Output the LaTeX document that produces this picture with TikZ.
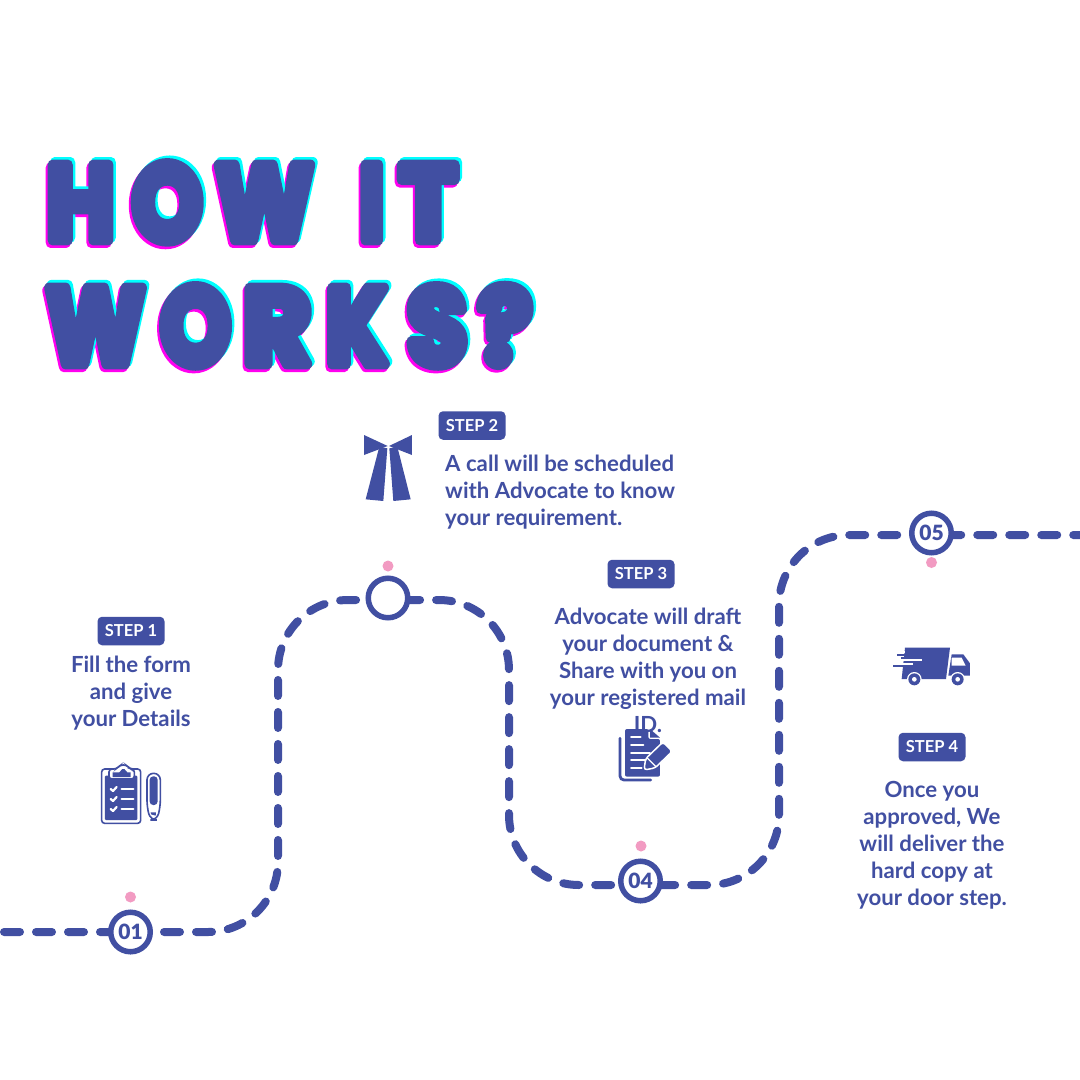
\documentclass[tikz,border=0pt]{standalone}
\usepackage{fontspec}
\usepackage{graphicx}
\setmainfont{Lato Bold}
\newfontfamily\titlefont{Poppins Bold}
\definecolor{ink}{HTML}{414FA2}
\definecolor{pinkdot}{HTML}{F29BC2}
\definecolor{cyanlay}{HTML}{00FFFF}
\definecolor{magentalay}{HTML}{FF00F0}
\newcommand{\fatglyph}[3]{\resizebox{#1pt}{#2pt}{\fontsize{100}{100}\titlefont\special{pdf:code q 1 j 1 J 2 Tr 10 w}#3\special{pdf:code Q}}}
\newcommand{\lett}[6]{% x,baseline,w,h,letter,name
  \node[inner sep=0,anchor=base west,text=magentalay] at (#1-1.9,#2+2.6) {\fatglyph{#3}{#4}{#5}};
  \node[inner sep=0,anchor=base west,text=cyanlay] at (#1+2.4,#2-2.6) {\fatglyph{#3}{#4}{#5}};
  \node[inner sep=0,anchor=base west,text=ink] (#6) at (#1,#2) {\fatglyph{#3}{#4}{#5}};
}
\tikzset{
  route/.style={draw=ink,line width=8pt,line cap=round,dash pattern=on 16pt off 16pt,dash phase=28pt,rounded corners=70pt},
  stop/.style={circle,draw=ink,line width=5.5pt,fill=white,minimum size=39.5pt,inner sep=0,text=ink,font=\fontsize{21}{21}\selectfont\fontspec{Lato Black}},
  dot/.style={circle,fill=pinkdot,minimum size=11pt,inner sep=0},
  badge/.style={fill=ink,text=white,rounded corners=4.5pt,minimum width=67pt,minimum height=28.5pt,inner sep=0,font=\fontsize{16.5}{16.5}\selectfont},
  body/.style={text=ink,inner sep=0,font=\fontsize{22.2}{27}\selectfont},
  icon/.style={fill=ink,draw=none},
  cut/.style={draw=white,line cap=round,line join=round}
}
\begin{document}
\begin{tikzpicture}[x=1pt,y=-1pt]
\useasboundingbox[fill=white] (0,0) rectangle (1080,1080);

% title
\lett{46.3}{240}{68}{75}{H}{t1}
\lett{132}{240.5}{70}{77}{O}{t2}
\lett{215.7}{240}{97}{75}{W}{t3}
\lett{359.3}{240}{24.7}{75}{I}{t4}
\lett{399}{240}{58}{75}{T}{t5}
\lett{46.3}{364}{98}{76}{W}{t6}
\lett{160.3}{364.5}{70}{78}{O}{t7}
\lett{243}{364}{68}{76}{R}{t8}
\lett{326}{364}{61}{76}{K}{t9}
\lett{407}{364.5}{60}{78}{S}{t10}
\lett{478}{364}{54}{78}{?}{t11}

% route
\coordinate (w0) at (0,932);
\coordinate (w1) at (278,932);
\coordinate (w2) at (278,600);
\coordinate (w3) at (509,600);
\coordinate (w4) at (509,885);
\coordinate (w5) at (779,885);
\coordinate (w6) at (779,535);
\coordinate (w7) at (1080,535);
\draw[route] (w0) -- (w1) -- (w2) -- (w3) -- (w4) -- (w5) -- (w6) -- (w7);

% stops
\node[stop] (s1) at (130.5,932) {01};
\node[stop] (s2) at (388,598) {};
\node[stop] (s4) at (640.5,881) {04};
\node[stop] (s5) at (931.5,533) {05};
\node[dot] (d1) at (130.5,897) {};
\node[dot] (d2) at (388,566) {};
\node[dot] (d4) at (641,846) {};
\node[dot] (d5) at (931.5,562.5) {};

% badges and texts
\node[badge] (b1) at (131,631) {STEP 1};
\node[badge] (b2) at (472,425.5) {STEP 2};
\node[badge] (b3) at (641,574) {STEP 3};
\node[badge] (b4) at (932,747) {STEP 4};
\node[body,align=center] (x1) at (131,693) {Fill the form\\and give\\your Details};
\node[body,align=left,anchor=west] (x2) at (445,492.5) {A call will be scheduled\\with Advocate to know\\your requirement.};
\node[body,align=center] (x3) at (648,670.5) {Advocate will draft\\your document \&\\Share with you on\\your registered mail\\ID.};
\node[body,align=center] (x4) at (932,845) {Once you\\approved, We\\will deliver the\\hard copy at\\your door step.};

% bow icon
\begin{scope}[shift={(340,410)},x=.3333pt,y=-.3333pt]
\fill[icon] (72,75) -- (143,108) -- (72,135) -- cycle;
\fill[icon] (216,75) -- (147,108) -- (216,135) -- cycle;
\fill[icon] (118,110) -- (142,115) -- (130,273) -- (77,268) -- cycle;
\fill[icon] (148,115) -- (172,110) -- (212,268) -- (160,273) -- cycle;
\end{scope}

% clipboard icon
\begin{scope}[shift={(85,755)},x=.3333pt,y=-.3333pt]
\draw[ink,line width=1.6pt,rounded corners=3pt] (50,42) rectangle (167,205);
\fill[icon,rounded corners=1pt] (60,62) rectangle (157,195);
\draw[ink,line width=1.6pt,fill=white,rounded corners=3pt] (72,42) -- (95,42) -- (105,30) -- (125,30) -- (135,42) -- (148,42) -- (148,72) -- (72,72) -- cycle;
\fill[icon] (83,52) -- (103,52) -- (112,42) -- (118,42) -- (127,52) -- (137,52) -- (137,66) -- (83,66) -- cycle;
\foreach \yy in {102,132,162}{
  \draw[cut,line width=2.2pt] (77,\yy) -- (84,\yy+6) -- (95,\yy-6);
  \draw[cut,line width=2.4pt] (110,\yy) -- (145,\yy);
}
\draw[ink,line width=1.6pt,rounded corners=6.5pt] (186,100) -- (186,55) -- (226,55) -- (226,100) -- (226,155) -- (216,195) -- (196,195) -- (186,155) -- cycle;
\fill[icon,rounded corners=3.5pt] (194,150) -- (194,64) -- (218,64) -- (218,150) -- cycle;
\fill[icon] (197,172) -- (213,172) -- (212,182) -- (198,178) -- cycle;
\end{scope}

% document icon
\begin{scope}[shift={(600,715)},x=.3333pt,y=-.3333pt]
\draw[ink,line width=2.8pt,line cap=round,rounded corners=4pt] (60,70) -- (60,195) -- (152,195);
\fill[icon,rounded corners=2pt] (75,42) -- (145,42) -- (145,72) -- (180,72) -- (180,185) -- (75,185) -- cycle;
\fill[icon] (150,42) -- (180,68) -- (150,68) -- cycle;
\foreach \yy/\xe in {65/122,90/130,113/150,136/140,160/125}{
  \draw[cut,line width=1.9pt] (93,\yy) -- (\xe,\yy);
}
\draw[white,line width=1.5pt,fill=ink,rounded corners=3pt,line join=round] (132,165) -- (137,131) -- (189,81) -- (217,109) -- (165,159) -- cycle;
\draw[white,line width=1.3pt] (141,128) -- (169,156);
\end{scope}

% truck icon
\begin{scope}[shift={(880,635)},x=.3333pt,y=-.3333pt]
\fill[icon] (75,38) -- (210,38) -- (198,132) -- (65,132) -- cycle;
\fill[white] (40,48) rectangle (75,55);
\fill[white] (40,70) rectangle (125,78);
\fill[white] (40,85) rectangle (100,94);
\fill[icon] (52,57) rectangle (115,63);
\fill[icon] (62,65) rectangle (125,72);
\fill[icon] (40,91) rectangle (103,97);
\fill[icon] (215,58) -- (250,58) -- (270,85) -- (270,122) -- (205,122) -- cycle;
\fill[white] (215,68) -- (245,68) -- (257,92) -- (215,92) -- cycle;
\foreach \xx in {103,233}{
  \fill[white] (\xx,133) circle[radius=22];
  \fill[icon] (\xx,133) circle[radius=18];
  \fill[white] (\xx,133) circle[radius=7];
}
\end{scope}
\end{tikzpicture}
\end{document}
